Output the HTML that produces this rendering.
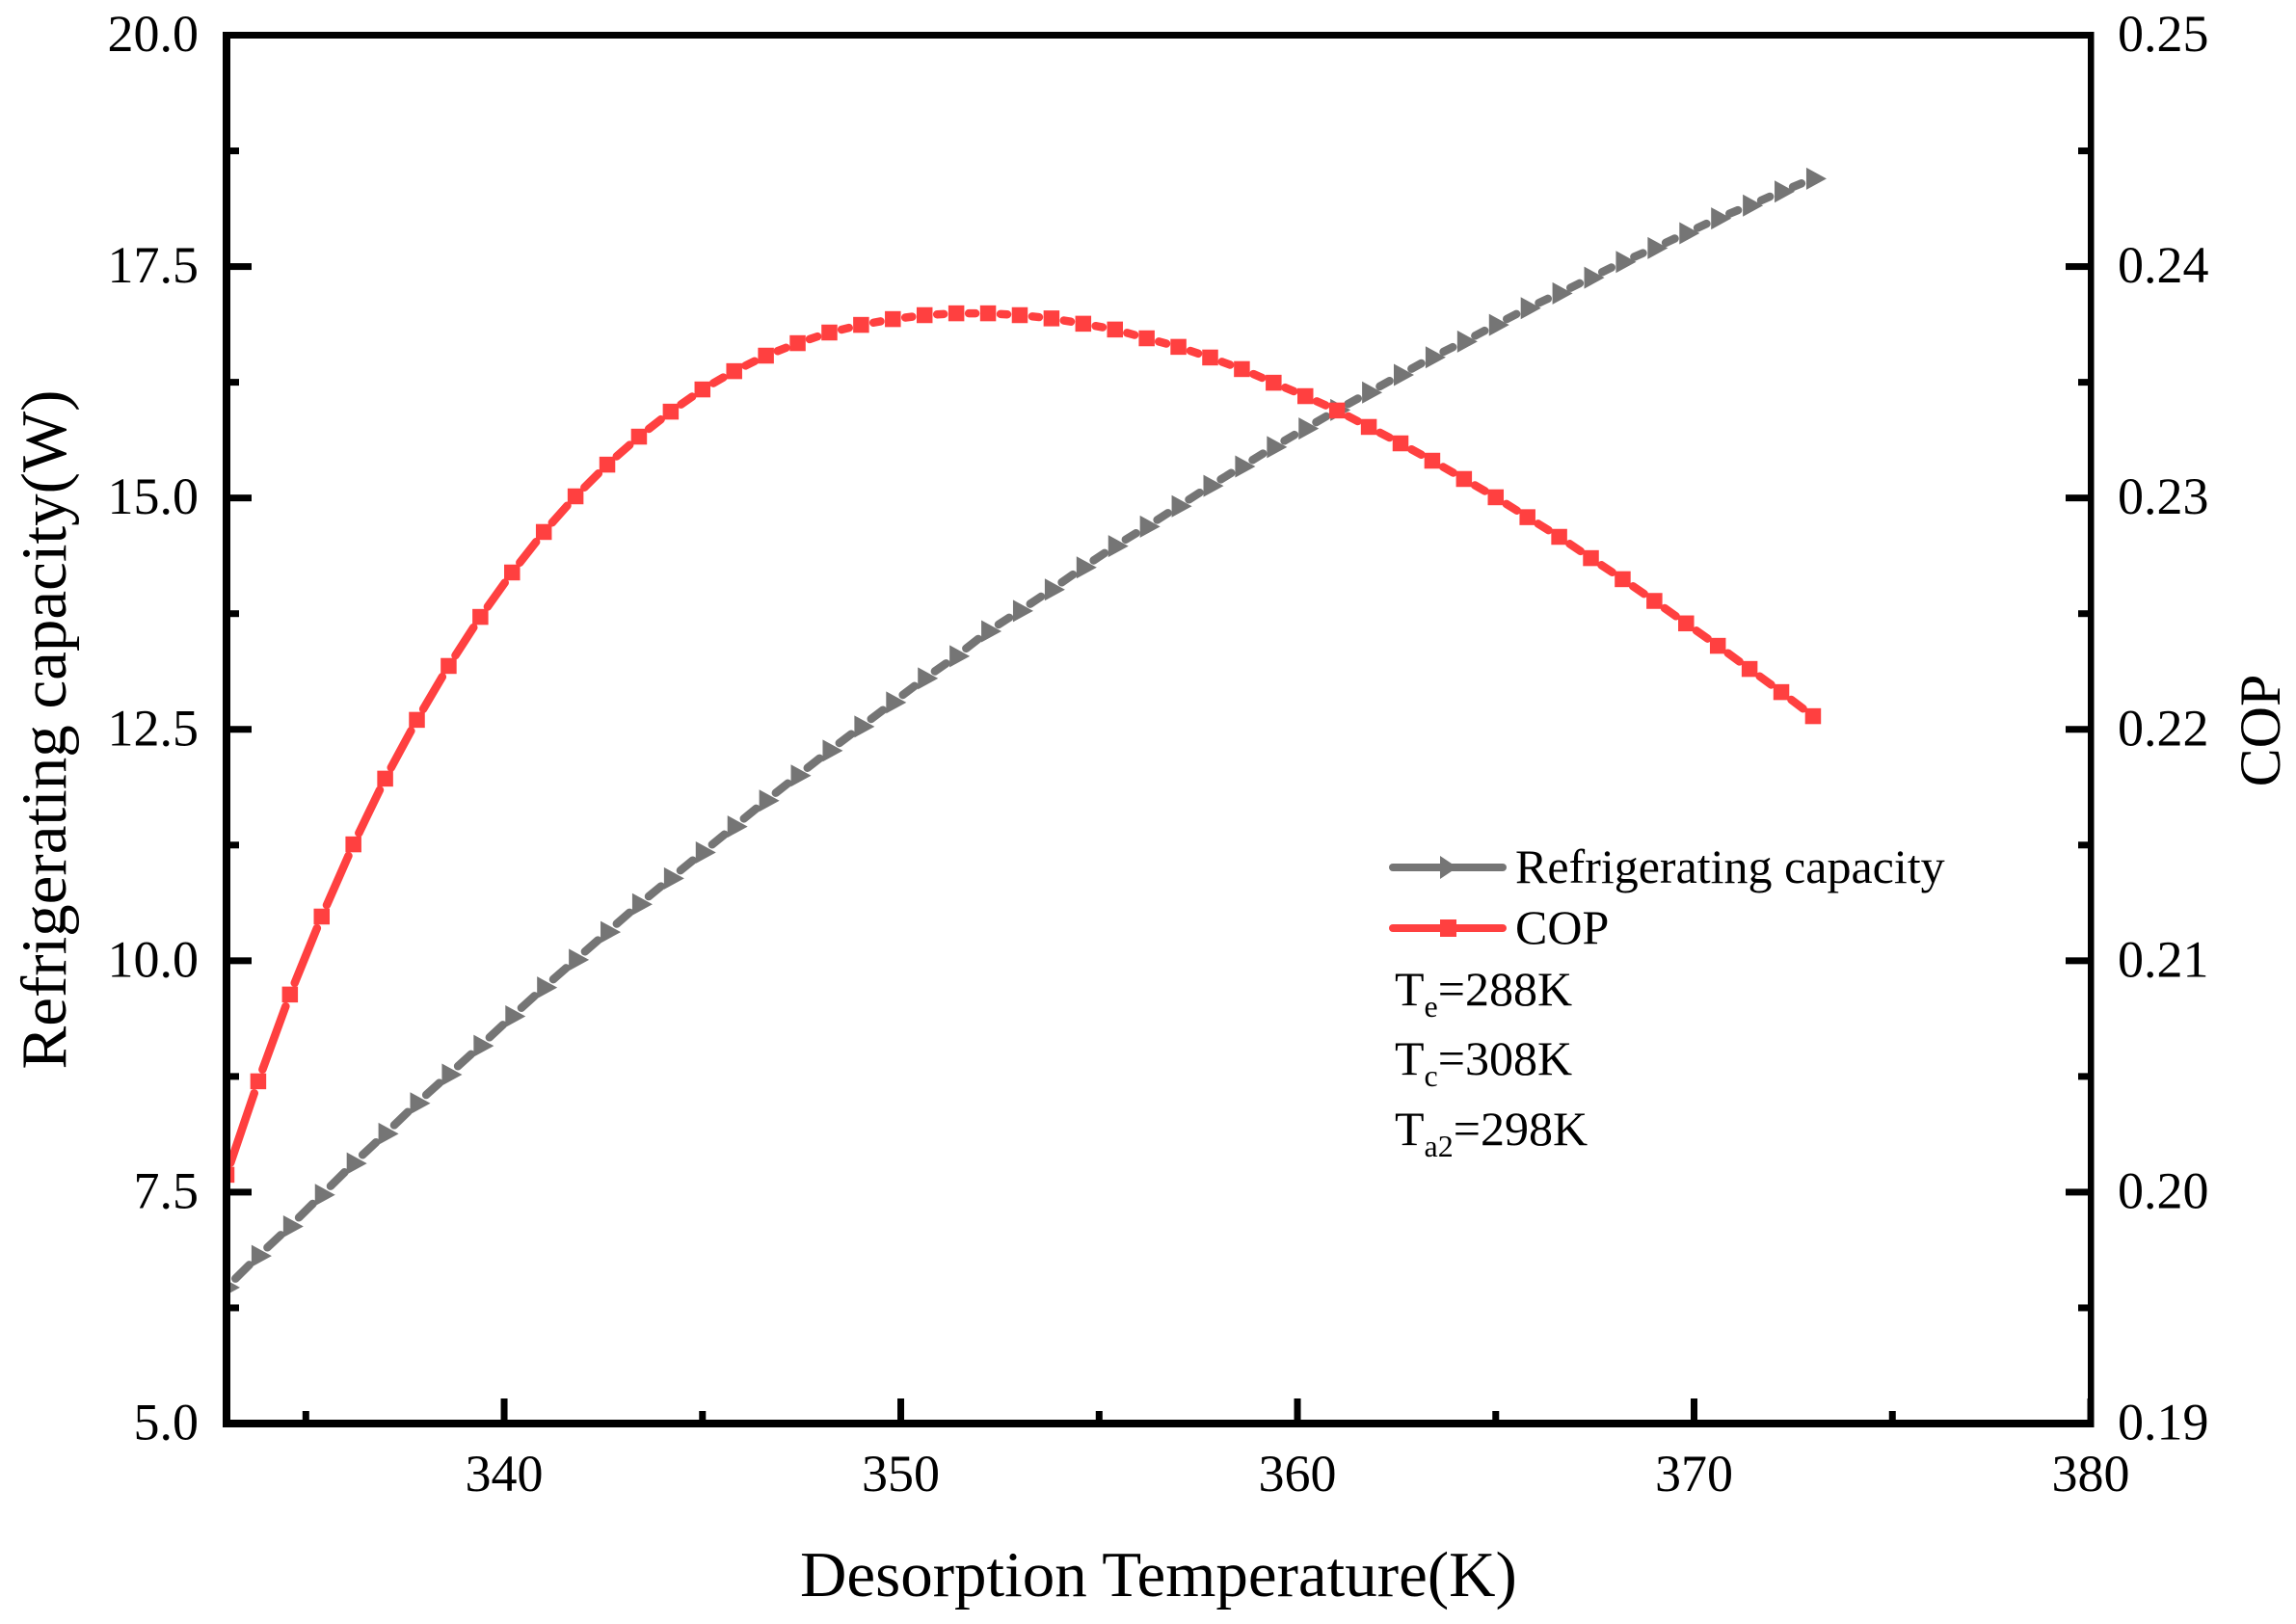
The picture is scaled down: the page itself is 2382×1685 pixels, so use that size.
<!DOCTYPE html>
<html lang="en">
<head>
<meta charset="utf-8">
<title>Refrigerating capacity and COP vs desorption temperature</title>
<style>
html,body{margin:0;padding:0;background:#fff;}
svg{display:block;}
text{font-family:"Liberation Serif","Times New Roman",serif;fill:#000;}
</style>
</head>
<body>
<svg id="chart" xmlns="http://www.w3.org/2000/svg" width="2382" height="1685" viewBox="0 0 2382 1685">
  <rect x="0" y="0" width="2382" height="1685" fill="#ffffff"/>
  <defs><clipPath id="plot-clip"><rect x="235" y="36" width="1934" height="1441"/></clipPath></defs>
  <g id="series-layer" clip-path="url(#plot-clip)"></g>
  <g id="axes-layer"></g>
  <text x="830" y="1656" font-size="67">Desorption Temperature(K)</text>
  <text transform="translate(68,757) rotate(-90)" text-anchor="middle" font-size="67">Refrigerating capacity(W)</text>
  <text transform="translate(2365,758) rotate(-90)" text-anchor="middle" font-size="60">COP</text>
  <g>
    <line x1="1445" y1="900" x2="1559" y2="900" stroke="#757575" stroke-width="8" stroke-linecap="round"/>
    <polygon points="1494,888 1512,900 1494,912" fill="#757575"/>
    <text x="1572" y="916" font-size="50">Refrigerating capacity</text>
    <line x1="1445" y1="963" x2="1559" y2="963" stroke="#ff4040" stroke-width="8" stroke-linecap="round"/>
    <rect x="1494" y="954" width="17" height="18" fill="#ff4040"/>
    <text x="1572" y="979" font-size="50">COP</text>
    <text x="1447" y="1043" font-size="50">T<tspan font-size="32" dy="12">e</tspan><tspan dy="-12">=288K</tspan></text>
    <text x="1447" y="1115" font-size="50">T<tspan font-size="32" dy="12">c</tspan><tspan dy="-12">=308K</tspan></text>
    <text x="1447" y="1188" font-size="50">T<tspan font-size="32" dy="12">a2</tspan><tspan dy="-12">=298K</tspan></text>
  </g>
</svg>
<script>
const temperatures = [333,333.8,334.6,335.4,336.2,337,337.8,338.6,339.4,340.2,341,341.8,342.6,343.4,344.2,345,345.8,346.6,347.4,348.2,349,349.8,350.6,351.4,352.2,353,353.8,354.6,355.4,356.2,357,357.8,358.6,359.4,360.2,361,361.8,362.6,363.4,364.2,365,365.8,366.6,367.4,368.2,369,369.8,370.6,371.4,372.2,373];
const capacityValues = [6.47,6.81,7.13,7.47,7.81,8.13,8.46,8.77,9.08,9.40,9.71,10.01,10.31,10.61,10.89,11.17,11.45,11.73,12.00,12.27,12.53,12.79,13.05,13.29,13.56,13.78,14.01,14.25,14.48,14.69,14.91,15.13,15.34,15.55,15.75,15.95,16.14,16.33,16.52,16.69,16.87,17.05,17.21,17.38,17.55,17.70,17.86,18.02,18.16,18.31,18.45];
const copValues = [0.20075,0.20479,0.20854,0.21191,0.21503,0.21787,0.22041,0.22274,0.22486,0.22678,0.22853,0.23007,0.23144,0.23265,0.23373,0.23469,0.23548,0.23615,0.23669,0.23715,0.23748,0.23773,0.2379,0.23798,0.23798,0.2379,0.23776,0.23753,0.23728,0.2369,0.23653,0.23607,0.23557,0.23498,0.2344,0.23378,0.23307,0.23236,0.23161,0.23082,0.23003,0.22917,0.22832,0.2274,0.22649,0.22555,0.22458,0.22361,0.22261,0.22161,0.22057];
const xMajorTicks = [340,350,360,370,380];
const xMinorTicks = [335,345,355,365,375];
const leftMajorTicks = ["5.0","7.5","10.0","12.5","15.0","17.5","20.0"];
const leftMinorTicks = [6.25,8.75,11.25,13.75,16.25,18.75];
const rightMajorTicks = ["0.19","0.20","0.21","0.22","0.23","0.24","0.25"];
const rightMinorTicks = [0.195,0.205,0.215,0.225,0.235,0.245];

const NS = 'http://www.w3.org/2000/svg';
const PLOT = {left:235, right:2169, top:36.5, bottom:1477};
const xRange = [333,380], leftRange = [5,20], rightRange = [0.19,0.25];
const GRAY = '#757575', RED = '#ff4040', GAP = 13;

function xScale(v){ return PLOT.left + (v - xRange[0]) / (xRange[1] - xRange[0]) * (PLOT.right - PLOT.left); }
function yLeft(v){ return PLOT.bottom - (v - leftRange[0]) / (leftRange[1] - leftRange[0]) * (PLOT.bottom - PLOT.top); }
function yRight(v){ return PLOT.bottom - (v - rightRange[0]) / (rightRange[1] - rightRange[0]) * (PLOT.bottom - PLOT.top); }

function make(tag, parent){
  const el = document.createElementNS(NS, tag);
  parent.appendChild(el);
  return el;
}
function set(el, props){
  for (const k in props) el.setAttribute(k, props[k]);
  return el;
}

const seriesLayer = document.getElementById('series-layer');
const axesLayer = document.getElementById('axes-layer');

function drawSegments(xs, ys, yFn, color, name){
  const g = make('g', seriesLayer);
  
  
  for (let i = 0; i < xs.length - 1; i++){
    const x1 = xScale(xs[i]), y1 = yFn(ys[i]), x2 = xScale(xs[i+1]), y2 = yFn(ys[i+1]);
    const len = Math.hypot(x2 - x1, y2 - y1), ux = (x2 - x1) / len, uy = (y2 - y1) / len;
    const seg = make('line', g);
    
    
    set(seg, {x1:x1 + ux*GAP, y1:y1 + uy*GAP, x2:x2 - ux*GAP, y2:y2 - uy*GAP, stroke:color, 'stroke-width':8.5, 'stroke-linecap':'round'});
  }
}

drawSegments(temperatures, capacityValues, yLeft, GRAY, 'capacity-line');
drawSegments(temperatures, copValues, yRight, RED, 'cop-line');

temperatures.forEach(function(t, i){
  const px = xScale(t), py = yLeft(capacityValues[i]);
  const tri = make('polygon', seriesLayer);
  
  
  set(tri, {points:(px-7)+','+(py-11.5)+' '+(px+14)+','+py+' '+(px-7)+','+(py+11.5), fill:GRAY});
});
temperatures.forEach(function(t, i){
  const px = xScale(t), py = yRight(copValues[i]);
  const sq = make('rect', seriesLayer);
  
  
  set(sq, {x:px-8.25, y:py-8.25, width:16.5, height:16.5, fill:RED});
});

function tickRect(x, y, w, h, name){
  const r = make('rect', axesLayer);
  
  
  set(r, {x:x, y:y, width:w, height:h, fill:'#000'});
}
function tickText(x, y, anchor, label, name){
  const t = make('text', axesLayer);
  
  
  set(t, {x:x, y:y, 'text-anchor':anchor, 'font-size':54});
  t.textContent = label;
}

xMajorTicks.forEach(function(v){
  const px = xScale(v);
  tickRect(px-3.5, 1451, 7, 26, 'x-major-tick');
  tickText(px, 1547, 'middle', String(v), 'x-tick-label');
});
xMinorTicks.forEach(function(v){
  tickRect(xScale(v)-3.5, 1464, 7, 13, 'x-minor-tick');
});
leftMajorTicks.forEach(function(label){
  const py = yLeft(parseFloat(label));
  tickRect(235, py-3.5, 26, 7, 'left-major-tick');
  tickText(206, py+16.5, 'end', label, 'left-tick-label');
});
leftMinorTicks.forEach(function(v){
  tickRect(235, yLeft(v)-3.5, 13, 7, 'left-minor-tick');
});
rightMajorTicks.forEach(function(label){
  const py = yRight(parseFloat(label));
  tickRect(2143, py-3.5, 26, 7, 'right-major-tick');
  tickText(2197, py+16.5, 'start', label, 'right-tick-label');
});
rightMinorTicks.forEach(function(v){
  tickRect(2156, yRight(v)-3.5, 13, 7, 'right-minor-tick');
});

tickRect(231, 33, 8, 1448, 'left-axis-line');
tickRect(2166, 33, 6.5, 1448, 'right-axis-line');
tickRect(231, 33, 1941.5, 7, 'top-axis-line');
tickRect(231, 1473, 1941.5, 8, 'bottom-axis-line');
</script>
</body>
</html>
